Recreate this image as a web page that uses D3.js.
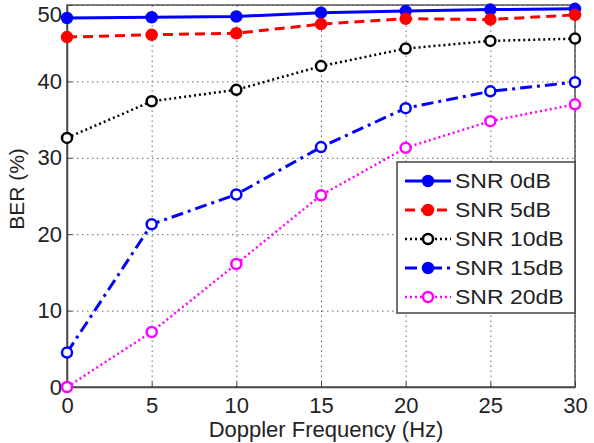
<!DOCTYPE html>
<html>
<head>
<meta charset="utf-8">
<script src="https://cdn.jsdelivr.net/npm/d3@7"></script>
<style>
  html, body { margin: 0; padding: 0; background: #fff; }
  svg { display: block; font-family: "Liberation Sans", Arial, sans-serif; }
</style>
</head>
<body>
<svg id="chart" width="594" height="443"></svg>
<script>
"use strict";

const doppler = [0, 5, 10, 15, 20, 25, 30];
const snr0 = [48.3, 48.4, 48.5, 49.0, 49.2, 49.4, 49.5];
const snr5 = [45.8, 46.1, 46.3, 47.5, 48.2, 48.1, 48.7];
const snr10 = [32.6, 37.4, 38.9, 42.0, 44.3, 45.3, 45.6];
const snr15 = [4.5, 21.3, 25.2, 31.4, 36.5, 38.7, 39.9];
const snr20 = [0, 7.2, 16.1, 25.1, 31.3, 34.8, 37.0];
const seriesNames = ["SNR 0dB", "SNR 5dB", "SNR 10dB", "SNR 15dB", "SNR 20dB"];
const xTicks = [0, 5, 10, 15, 20, 25, 30];
const yTicks = [0, 10, 20, 30, 40, 50];

// line styles, one per series
const styles = [
    {color: "#0000ff", dash: null, width: 3, fill: "#0000ff"},
    {color: "#ff0000", dash: "10,6", width: 3, fill: "#ff0000"},
    {color: "#000000", dash: "2,3", width: 2.5, fill: "#ffffff"},
    {color: "#0000ff", dash: "12,5,3,5", width: 3, fill: "#ffffff"},
    {color: "#ff00ff", dash: "2,3", width: 2.5, fill: "#ffffff"},
];
const legendFills = ["#0000ff", "#ff0000", "#ffffff", "#0000ff", "#ffffff"];

const plotLeft = 67, plotRight = 575, plotTop = 5, plotBottom = 387;

const svg = d3.select("#chart");

const x = d3.scaleLinear().domain([0, 30]).range([plotLeft, plotRight]);
const y = d3.scaleLinear().domain([0, 50]).range([plotBottom, plotTop]);

// grid
svg.append("g")
    .attr("transform", `translate(0,${plotBottom})`)
    .call(d3.axisBottom(x).tickValues(xTicks).tickSize(-(plotBottom - plotTop)).tickFormat(""))
    .call(g => g.select(".domain").remove())
    .selectAll("line")
    .attr("stroke", "#666")
    .attr("stroke-width", 1)
    .attr("stroke-dasharray", "1.5,3.5");

svg.append("g")
    .attr("transform", `translate(${plotLeft},0)`)
    .call(d3.axisLeft(y).tickValues(yTicks).tickSize(-(plotRight - plotLeft)).tickFormat(""))
    .call(g => g.select(".domain").remove())
    .selectAll("line")
    .attr("stroke", "#666")
    .attr("stroke-width", 1)
    .attr("stroke-dasharray", "1.5,3.5");

// box
svg.append("rect")
    .attr("x", plotLeft).attr("y", plotTop)
    .attr("width", plotRight - plotLeft).attr("height", plotBottom - plotTop)
    .attr("fill", "none").attr("stroke", "#555").attr("stroke-width", 1.5);

// axes
const xAxis = svg.append("g")
    .attr("transform", `translate(0,${plotBottom})`)
    .call(d3.axisBottom(x).tickValues(xTicks).tickSize(-5).tickPadding(10).tickSizeOuter(0));
const yAxis = svg.append("g")
    .attr("transform", `translate(${plotLeft},0)`)
    .call(d3.axisLeft(y).tickValues(yTicks).tickSize(-5).tickPadding(5).tickSizeOuter(0));

for (const ax of [xAxis, yAxis]) {
    ax.select(".domain").attr("stroke", "#444").attr("stroke-width", 1.5);
    ax.selectAll(".tick line").attr("stroke", "#444");
    ax.selectAll(".tick text")
        .attr("fill", "#222")
        .style("font-family", "'Liberation Sans', Arial, sans-serif")
        .style("font-size", "22px");
}
// keep the top label inside the page
yAxis.selectAll(".tick text").filter(d => d === 50).attr("y", 9);

// axis titles
svg.append("text")
    .attr("x", (plotLeft + plotRight) / 2 + 5)
    .attr("y", 437)
    .attr("text-anchor", "middle")
    .attr("fill", "#222")
    .style("font-size", "22px")
    .text("Doppler Frequency (Hz)");

svg.append("text")
    .attr("transform", `translate(24,189) rotate(-90)`)
    .attr("text-anchor", "middle")
    .attr("fill", "#222")
    .style("font-size", "21px")
    .text("BER (%)");

// series
const allSeries = [snr0, snr5, snr10, snr15, snr20];
const line = d3.line()
    .x(d => x(d[0]))
    .y(d => y(d[1]));

const plot = svg.append("g");
allSeries.forEach((values, i) => {
    const st = styles[i];
    const pts = doppler.map((d, j) => [d, values[j]]);
    plot.append("path")
        .datum(pts)
        .attr("d", line)
        .attr("fill", "none")
        .attr("stroke", st.color)
        .attr("stroke-width", st.width)
        .attr("stroke-dasharray", st.dash);
    plot.selectAll(null)
        .data(pts)
        .enter()
        .append("circle")
        .attr("cx", d => x(d[0]))
        .attr("cy", d => y(d[1]))
        .attr("r", 5)
        .attr("fill", st.fill)
        .attr("stroke", st.color)
        .attr("stroke-width", 2.5);
});

// legend
const legend = svg.append("g");
legend.append("rect")
    .attr("x", 397).attr("y", 162)
    .attr("width", plotRight - 397).attr("height", 151)
    .attr("fill", "#fff").attr("stroke", "#444").attr("stroke-width", 1.5);

seriesNames.forEach((name, i) => {
    const st = styles[i];
    const ly = 181 + i * 29;
    legend.append("line")
        .attr("x1", 405).attr("x2", 451)
        .attr("y1", ly).attr("y2", ly)
        .attr("stroke", st.color)
        .attr("stroke-width", st.width)
        .attr("stroke-dasharray", st.dash);
    legend.append("circle")
        .attr("cx", 428).attr("cy", ly)
        .attr("r", 5)
        .attr("fill", legendFills[i])
        .attr("stroke", st.color)
        .attr("stroke-width", 2.5);
    legend.append("text")
        .attr("transform", `translate(455,${ly + 7}) scale(1.15,1)`)
        .attr("fill", "#222")
        .style("font-size", "20px")
        .text(name);
});
</script>
</body>
</html>
